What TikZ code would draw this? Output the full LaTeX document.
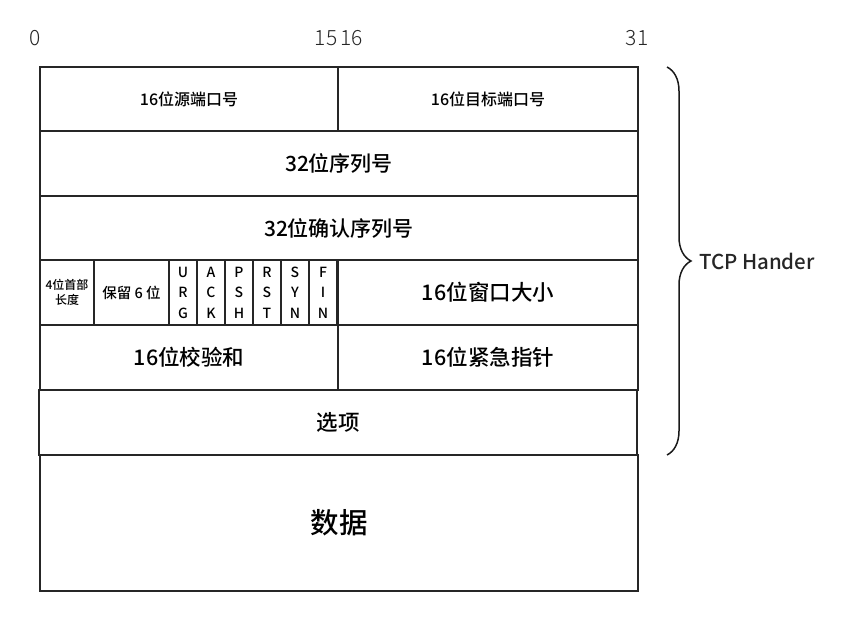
\documentclass[tikz,border=0pt]{standalone}
\usepackage{fontspec}
\setmainfont{Noto Sans CJK SC}[UprightFont={* Medium}]
\newfontfamily\lightfont{Noto Sans CJK SC}[UprightFont={* Light}]
\usetikzlibrary{decorations.pathreplacing}
\tikzset{
  cell/.style={draw=black!85, line width=1.6pt, inner sep=0pt, outer sep=0pt, anchor=north west, align=center},
  bitno/.style={font=\lightfont\fontsize{21}{21}\selectfont, text=black!85}
}
\begin{document}
\begin{tikzpicture}[x=1pt, y=-1pt]
\useasboundingbox (0,0) rectangle (868,623);
\node[bitno] (b0) at (35,38) {0};
\node[bitno] (b15) at (339,38) {15\,16};
\node[bitno] (b31) at (637,38) {31};
\node[cell, minimum width=298, minimum height=64, font=\fontsize{16}{16}\selectfont] (src) at (40,67) {16位源端口号};
\node[cell, minimum width=300, minimum height=64, font=\fontsize{16}{16}\selectfont] (dst) at (338,67) {16位目标端口号};
\node[cell, minimum width=598, minimum height=65, font=\fontsize{21}{21}\selectfont] (seq) at (40,131) {32位序列号};
\node[cell, minimum width=598, minimum height=64, font=\fontsize{21}{21}\selectfont] (ack) at (40,196) {32位确认序列号};
\node[cell, minimum width=54, minimum height=65, font=\fontsize{12}{15}\selectfont] (hlen) at (40,260) {4位首部\\长度};
\node[cell, minimum width=75, minimum height=65, font=\fontsize{14.5}{14.5}\selectfont] (resv) at (94,260) {保留 6 位};
\foreach \f [count=\i] in {{U\\R\\G},{A\\C\\K},{P\\S\\H},{R\\S\\T},{S\\Y\\N},{F\\I\\N}}
  \node[cell, minimum width=28, minimum height=65, font=\fontsize{14}{20.5}\selectfont] (f\i) at (141+28*\i,260) {\f};
\node[cell, minimum width=300, minimum height=65, font=\fontsize{21.5}{21.5}\selectfont] (win) at (338,260) {16位窗口大小};
\node[cell, minimum width=298, minimum height=65, font=\fontsize{21.5}{21.5}\selectfont] (chk) at (40,325) {16位校验和};
\node[cell, minimum width=300, minimum height=65, font=\fontsize{21.5}{21.5}\selectfont] (urg) at (338,325) {16位紧急指针};
\node[cell, minimum width=598, minimum height=65, font=\fontsize{21.5}{21.5}\selectfont] (opt) at (39,390) {选项};
\node[cell, minimum width=598, minimum height=136, font=\fontsize{28.5}{28.5}\selectfont] (data) at (40,455) {数据};
\coordinate (bt) at (667,67);
\coordinate (bb) at (667,455);
\draw[line width=1.5pt, black!90, decorate, decoration={brace, amplitude=24pt}] (bt) -- (bb) node[midway, right=28pt, font=\fontsize{20.5}{20.5}\selectfont, text=black!85] (hd) {TCP Hander};
\end{tikzpicture}
\end{document}
